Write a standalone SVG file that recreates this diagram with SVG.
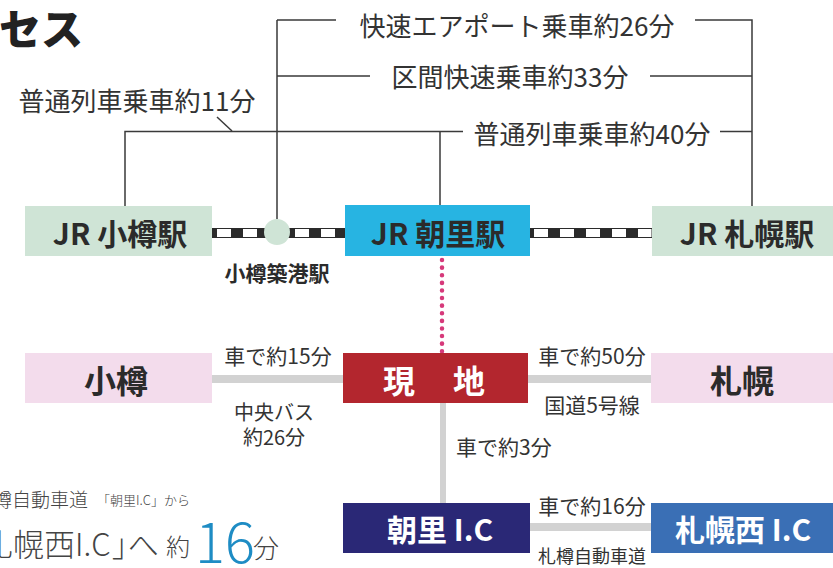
<svg xmlns="http://www.w3.org/2000/svg" width="833" height="568" viewBox="0 0 833 568">
<style>
text{font-family:"Noto Sans CJK JP","Noto Sans",sans-serif;}
.lbl{font-size:26px;fill:#333;font-weight:400;}
.sm{font-size:21px;fill:#333;font-weight:400;}
.node{font-size:30px;font-weight:700;}
.dk{fill:#2b2b2b;}
.wh{fill:#ffffff;}
.br{stroke:#3a3a3a;stroke-width:1.5;fill:none;}
.road{stroke:#d2d2d2;stroke-width:8;fill:none;}
.railbg{fill:#fff;stroke:#2b2b2b;stroke-width:1;}
.rail{stroke:#2b2b2b;stroke-width:9;stroke-dasharray:12 14;fill:none;}
.note{fill:#444;font-weight:300;}
</style>
<rect width="833" height="568" fill="#ffffff"/>
<text x="-1" y="26" dominant-baseline="central" style="font-size:42px;font-weight:900;fill:#222">セス</text>

<g id="connectors">
  <path class="br" d="M277,20 V219 M277,20 H336 M695,20 H752 V206"/>
  <path class="br" d="M277,76 H370 M650,76 H752"/>
  <path class="br" d="M125,206 V131.5 H463 M720,131.5 H752 M440,131.5 V205"/>
  <path class="br" d="M217,117 L232,131"/>
  <rect class="railbg" x="212" y="228.5" width="133" height="9"/>
  <line class="rail" x1="212" y1="233" x2="345" y2="233" stroke-dashoffset="7"/>
  <rect class="railbg" x="530" y="228.5" width="122" height="9"/>
  <line class="rail" x1="530" y1="233" x2="652" y2="233" stroke-dashoffset="8"/>
  <line x1="442" y1="260" x2="442" y2="352" stroke="#d6397a" stroke-width="4.5" stroke-linecap="round" stroke-dasharray="0.1 7.5"/>
  <line class="road" x1="212" y1="379" x2="343" y2="379"/>
  <line class="road" x1="528" y1="379" x2="651" y2="379"/>
  <line x1="443" y1="403" x2="443" y2="503" stroke="#d2d2d2" stroke-width="6"/>
  <line class="road" x1="530" y1="527" x2="651" y2="527"/>
</g>

<g id="labels">
  <text class="lbl" x="517" y="24" text-anchor="middle" dominant-baseline="central">快速エアポート乗車約26分</text>
  <text class="lbl" x="510" y="75" text-anchor="middle" dominant-baseline="central">区間快速乗車約33分</text>
  <text class="lbl" x="592" y="132" text-anchor="middle" dominant-baseline="central">普通列車乗車約40分</text>
  <text class="lbl" x="137" y="99" text-anchor="middle" dominant-baseline="central">普通列車乗車約11分</text>
  <text x="277" y="272" text-anchor="middle" dominant-baseline="central" style="font-size:21px;font-weight:700;fill:#2b2b2b">小樽築港駅</text>
  <text class="sm" x="278" y="355" text-anchor="middle" dominant-baseline="central">車で約15分</text>
  <text class="sm" x="274" y="411" text-anchor="middle" dominant-baseline="central" style="font-size:20px">中央バス</text>
  <text class="sm" x="274" y="436" text-anchor="middle" dominant-baseline="central" style="font-size:20px">約26分</text>
  <text class="sm" x="592" y="355" text-anchor="middle" dominant-baseline="central">車で約50分</text>
  <text class="sm" x="592" y="404" text-anchor="middle" dominant-baseline="central">国道5号線</text>
  <text class="sm" x="456" y="446" dominant-baseline="central">車で約3分</text>
  <text class="sm" x="592" y="505" text-anchor="middle" dominant-baseline="central">車で約16分</text>
  <text x="592" y="555" text-anchor="middle" dominant-baseline="central" style="font-size:18px;fill:#333">札樽自動車道</text>
</g>

<g id="node-otaru-st">
  <rect x="25" y="206" width="187" height="50" fill="#cfe4d6"/>
  <text class="node dk" x="120" y="232" text-anchor="middle" dominant-baseline="central">JR 小樽駅</text>
</g>
<g id="node-otaruchikko">
  <circle cx="277" cy="232" r="13" fill="#cfe4d6"/>
</g>
<g id="node-asari-st">
  <rect x="345" y="205" width="185" height="51" fill="#27b4e2"/>
  <text class="node dk" x="438" y="232" text-anchor="middle" dominant-baseline="central">JR 朝里駅</text>
</g>
<g id="node-sapporo-st">
  <rect x="652" y="206" width="181" height="50" fill="#cfe4d6"/>
  <text class="node dk" x="747" y="232" text-anchor="middle" dominant-baseline="central">JR 札幌駅</text>
</g>
<g id="node-otaru">
  <rect x="25" y="353" width="187" height="50" fill="#f3dcec"/>
  <text class="node dk" x="116" y="379" text-anchor="middle" dominant-baseline="central" style="font-size:32px">小樽</text>
</g>
<g id="node-genchi">
  <rect x="343" y="353" width="185" height="50" fill="#b3262e"/>
  <text class="node wh" x="399" y="379" text-anchor="middle" dominant-baseline="central" style="font-size:32px">現</text>
  <text class="node wh" x="469" y="379" text-anchor="middle" dominant-baseline="central" style="font-size:32px">地</text>
</g>
<g id="node-sapporo">
  <rect x="651" y="353" width="182" height="50" fill="#f3dcec"/>
  <text class="node dk" x="742" y="379" text-anchor="middle" dominant-baseline="central" style="font-size:32px">札幌</text>
</g>
<g id="node-asari-ic">
  <rect x="343" y="503" width="187" height="50" fill="#2a2876"/>
  <text class="node wh" x="440" y="528" text-anchor="middle" dominant-baseline="central">朝里 I.C</text>
</g>
<g id="node-sapporonishi-ic">
  <rect x="651" y="503" width="182" height="50" fill="#3a6fb5"/>
  <text class="node wh" x="743" y="528" text-anchor="middle" dominant-baseline="central">札幌西 I.C</text>
</g>

<g id="note">
  <text class="note" x="-7" y="498" dominant-baseline="central" style="font-size:19px">樽自動車道</text>
  <text class="note" x="97" y="499" dominant-baseline="central" style="font-size:13px">「朝里I.C」から</text>
  <text class="note" x="-18" y="542" dominant-baseline="central" style="font-size:31px">札幌西I.C<tspan dx="1">」</tspan><tspan dx="-15">へ</tspan></text>
  <text class="note" x="166" y="545" dominant-baseline="central" style="font-size:24px">約</text>
  <text x="195" y="538" dominant-baseline="central" style="font-size:56px;fill:#1e8cc4;font-weight:300">16</text>
  <text class="note" x="253" y="546" dominant-baseline="central" style="font-size:26px">分</text>
</g>
</svg>
